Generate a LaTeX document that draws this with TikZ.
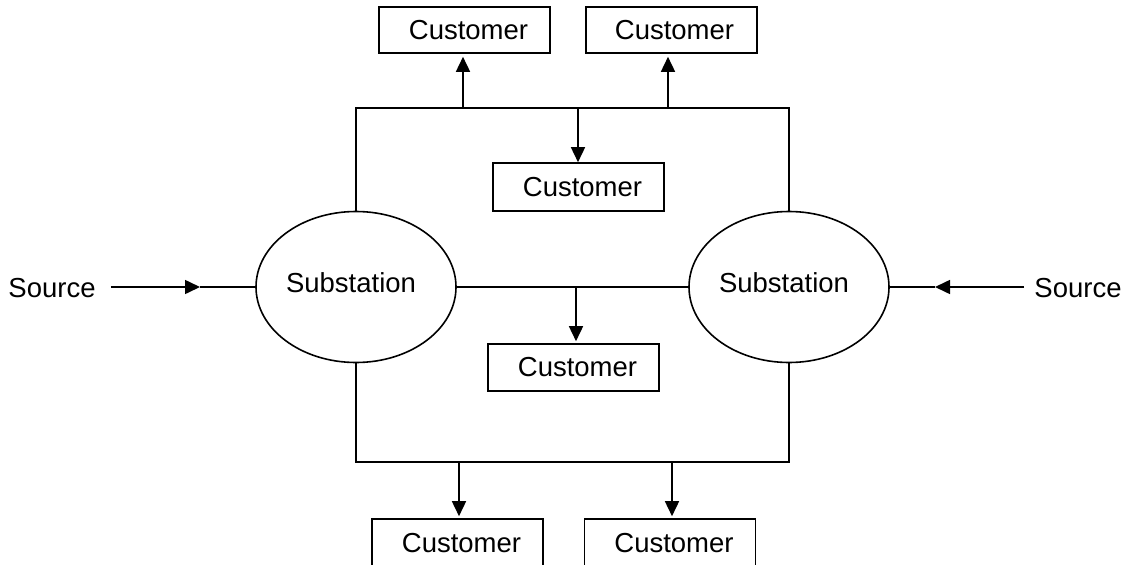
\documentclass[tikz,border=0pt]{standalone}
\usepackage{fontspec}
\setmainfont{Liberation Sans}
\usetikzlibrary{arrows.meta,shapes.geometric}
\begin{document}
\begin{tikzpicture}[x=1pt,y=-1pt,
  every node/.style={font=\fontsize{27.5}{32}\selectfont},
  wire/.style={line width=1.6pt},
  arr/.style={wire,-{Triangle[length=15pt,width=14pt]}},
  custbox/.style={draw,line width=1.6pt,minimum width=171pt,inner sep=0pt},
  subst/.style={draw,ellipse,line width=1.6pt,minimum width=200pt,minimum height=151pt,inner sep=0pt},
  srclabel/.style={inner sep=0pt}]
\useasboundingbox (0,0) rectangle (1128,565);
% substations
\node[subst] (subL) at (356,287) {\raisebox{8pt}{Substation\hspace{10pt}}};
\node[subst] (subR) at (789,287) {\raisebox{8pt}{Substation\hspace{10pt}}};
% sources
\node[srclabel] (srcL) at (52,288) {Source};
\node[srclabel] (srcR) at (1078,288) {Source};
\coordinate (tipL) at (200,287);
\coordinate (tipR) at (935,287);
\draw[arr] ([xshift=15pt]srcL.east |- tipL) -- (tipL);
\draw[wire] (tipL) -- (subL.west);
\draw[arr] ([xshift=-10pt]srcR.west |- tipR) -- (tipR);
\draw[wire] (tipR) -- (subR.east);
% customers
\node[custbox,minimum height=46pt] (c1) at (464.5,30) {\hspace{8pt}Customer};
\node[custbox,minimum height=46pt] (c2) at (671.5,30) {\hspace{6pt}Customer};
\node[custbox,minimum height=48pt] (c3) at (578.5,187) {\hspace{8pt}Customer};
\node[custbox,minimum height=47pt] (c4) at (573.5,367.5) {\hspace{8pt}Customer};
\node[custbox,minimum height=48pt] (c5) at (457.5,543) {\hspace{8pt}Customer};
\node[custbox,minimum height=48pt] (c6) at (670,543) {\hspace{8pt}Customer};
% bus lines
\coordinate (tl) at (356,108);
\coordinate (tr) at (789,108);
\coordinate (bl) at (356,462);
\coordinate (br) at (789,462);
\draw[wire] (subL.north) -- (tl) -- (tr) -- (subR.north);
\draw[wire] (subL.south) -- (bl) -- (br) -- (subR.south);
\draw[wire] (subL.east) -- (subR.west);
% junctions
\coordinate (j1) at (463,108);
\coordinate (j2) at (578,108);
\coordinate (j3) at (668,108);
\coordinate (j4) at (576,287);
\coordinate (j5) at (459,462);
\coordinate (j6) at (672,462);
\draw[arr,shorten >=3pt] (j1) -- (j1 |- c1.south);
\draw[arr,shorten >=3pt] (j3) -- (j3 |- c2.south);
\draw[arr] (j2) -- (j2 |- c3.north);
\draw[arr,shorten >=2pt] (j4) -- (j4 |- c4.north);
\draw[arr,shorten >=2pt] (j5) -- (j5 |- c5.north);
\draw[arr,shorten >=2pt] (j6) -- (j6 |- c6.north);
\end{tikzpicture}
\end{document}
